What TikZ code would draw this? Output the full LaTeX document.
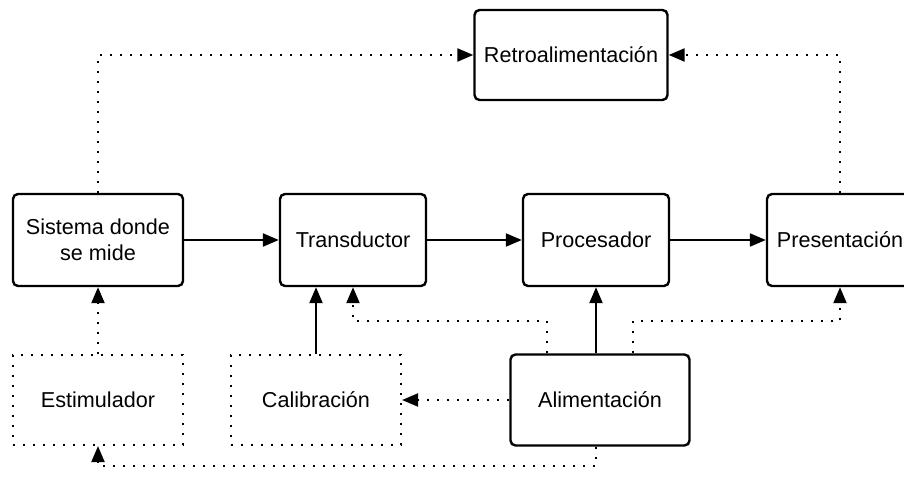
\documentclass[tikz,border=0pt]{standalone}
\usepackage{fontspec}
\setmainfont{Liberation Sans}
\usetikzlibrary{arrows.meta, calc, shapes, positioning}

\begin{document}
\begin{tikzpicture}[x=0.5pt,y=-0.5pt,every node/.style={font=\fontsize{10.8}{13}\selectfont},node distance=0cm]

\tikzstyle{block}=[rectangle,draw,line width=1.2pt,rounded corners=2.5pt,inner sep=0pt,minimum width=73pt,minimum height=46pt,align=center];
\tikzstyle{ghost}=[block,rounded corners=0pt,line width=1.1pt,dash pattern=on 1pt off 4pt,minimum width=85pt,minimum height=45pt];
\tikzstyle{flow}=[line width=1.1pt,-{Triangle[length=8pt,width=6.5pt]}];
\tikzstyle{loop}=[flow,dash pattern=on 1pt off 4pt];

\useasboundingbox (0,0) rectangle (904,496);

\node(SISTEMA) [block, minimum width=85pt] at (98,240) {Sistema donde\\se mide};
\node(TRANSDUCTOR) [block] at (353,240) {Transductor};
\node(PROCESADOR) [block] at (596,240) {Procesador};
\node(PRESENTACION) [block] at (840,240) {Presentación};
\node(RETRO) [block, minimum width=96.5pt, minimum height=45pt] at (571,55) {Retroalimentación};
\node(ESTIMULADOR) [ghost] at (98,400) {Estimulador};
\node(CALIBRACION) [ghost] at (316,400) {Calibración};
\node(ALIMENTACION) [block, minimum width=89.5pt, minimum height=45.5pt] at (600,400) {Alimentación};

\draw[loop] (SISTEMA.north) |- (RETRO.west);
\draw[loop] (PRESENTACION.north) |- (RETRO.east);

\draw[flow] (SISTEMA) -- (TRANSDUCTOR);
\draw[flow] (TRANSDUCTOR) -- (PROCESADOR);
\draw[flow] (PROCESADOR) -- (PRESENTACION);

\draw[loop] (ESTIMULADOR) -- (SISTEMA);
\draw[flow] (CALIBRACION.north) -- (CALIBRACION.north |- TRANSDUCTOR.south);
\draw[loop] ($(ALIMENTACION.north)+(-53,0)$) |- ($(TRANSDUCTOR.south)+(0,34)$) -- (TRANSDUCTOR.south);
\draw[flow] (ALIMENTACION.north -| PROCESADOR.south) -- (PROCESADOR.south);
\draw[loop] ($(ALIMENTACION.north)+(33,0)$) |- ($(PRESENTACION.south)+(0,34)$) -- (PRESENTACION.south);
\draw[loop] (ALIMENTACION) -- (CALIBRACION);
\draw[loop] (ALIMENTACION.south -| PROCESADOR.south) -- ++(0,19) -| (ESTIMULADOR.south);

\end{tikzpicture}
\end{document}
